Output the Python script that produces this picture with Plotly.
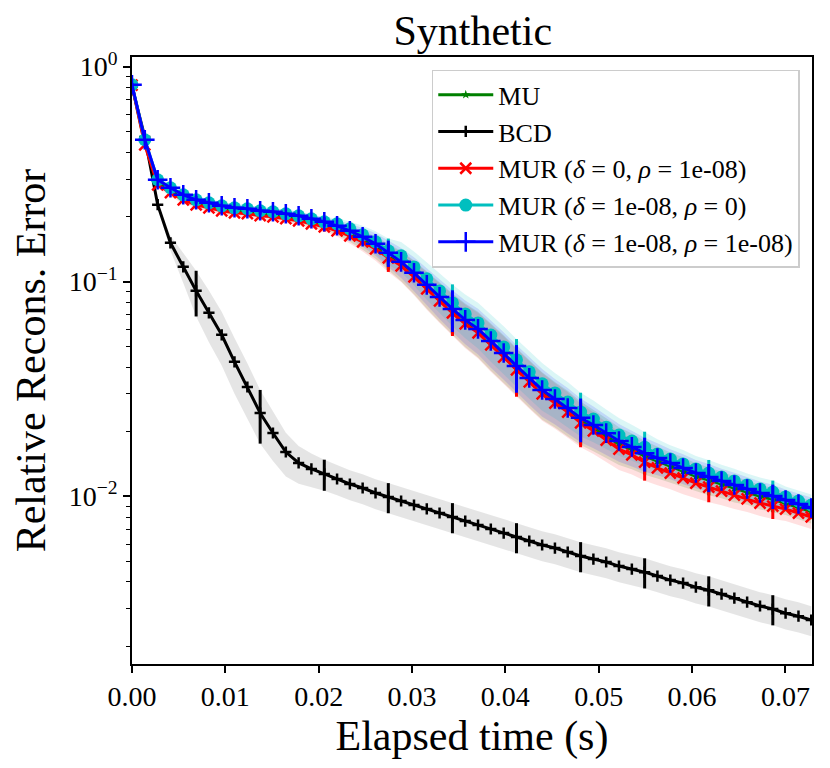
import plotly.graph_objects as go

# elapsed time per iteration (s), shared by all methods
t = [0.0, 0.00137, 0.00275, 0.00412, 0.00549, 0.00687, 0.00824, 0.00961, 0.01098, 0.01236,
     0.01373, 0.0151, 0.01648, 0.01785, 0.01922, 0.0206, 0.02197, 0.02334, 0.02471, 0.02609,
     0.02746, 0.02883, 0.03021, 0.03158, 0.03295, 0.03433, 0.0357, 0.03707, 0.03844, 0.03982,
     0.04119, 0.04256, 0.04394, 0.04531, 0.04668, 0.04806, 0.04943, 0.0508, 0.05217, 0.05355,
     0.05492, 0.05629, 0.05767, 0.05904, 0.06041, 0.06179, 0.06316, 0.06453, 0.0659, 0.06728,
     0.06865, 0.07002, 0.0714, 0.07277]

# mean relative reconstruction error
mu = [0.82, 0.44, 0.288, 0.2645, 0.2452, 0.2324, 0.2251, 0.218, 0.2133, 0.2111,
      0.2067, 0.2044, 0.2001, 0.1958, 0.1896, 0.1836, 0.1759, 0.1667, 0.1563, 0.145,
      0.1316, 0.1195, 0.1063, 0.0934, 0.0821, 0.0722, 0.0642, 0.0583, 0.0512, 0.045,
      0.0392, 0.0345, 0.0303, 0.0275, 0.025, 0.0225, 0.0208, 0.0191, 0.0175, 0.0165,
      0.0154, 0.0146, 0.0138, 0.0131, 0.0124, 0.0119, 0.0114, 0.0109, 0.0105, 0.01,
      0.0097, 0.0093, 0.0089, 0.0085]
bcd = [0.807, 0.47, 0.228, 0.1514, 0.1171, 0.0905, 0.0715, 0.0565, 0.0423, 0.0323,
       0.02445, 0.01973, 0.01609, 0.01431, 0.01342, 0.01272, 0.01205, 0.01142, 0.01094, 0.01037,
       0.00994, 0.00952, 0.00912, 0.00874, 0.00837, 0.00802, 0.00768, 0.00736, 0.00705, 0.00675,
       0.00647, 0.0062, 0.00594, 0.00575, 0.00551, 0.00528, 0.00511, 0.00495, 0.00474, 0.00459,
       0.00444, 0.00426, 0.00408, 0.00395, 0.00378, 0.00366, 0.00351, 0.00336, 0.00322, 0.00309,
       0.00299, 0.00286, 0.00277, 0.00266]
mur_d0 = [0.82, 0.433, 0.2821, 0.259, 0.2401, 0.2276, 0.2204, 0.2135, 0.2089, 0.2068,
          0.2024, 0.2002, 0.196, 0.1918, 0.1857, 0.1798, 0.1723, 0.1632, 0.1531, 0.142,
          0.1289, 0.1183, 0.1052, 0.0924, 0.0812, 0.0715, 0.0635, 0.0577, 0.0507, 0.0445,
          0.0388, 0.0341, 0.03, 0.0272, 0.0247, 0.022, 0.0202, 0.0183, 0.0166, 0.0156,
          0.01444, 0.01356, 0.01284, 0.01218, 0.01154, 0.01105, 0.01059, 0.01015, 0.00973, 0.00931,
          0.00902, 0.00873, 0.00837, 0.00802]
mur_r0 = [0.824, 0.457, 0.2976, 0.2732, 0.2533, 0.2401, 0.2325, 0.2252, 0.2204, 0.2181,
          0.2135, 0.2112, 0.2067, 0.2023, 0.1959, 0.1897, 0.1857, 0.176, 0.1651, 0.1531,
          0.139, 0.1317, 0.117, 0.1029, 0.0904, 0.0795, 0.0707, 0.0642, 0.0564, 0.0496,
          0.0432, 0.038, 0.0334, 0.0303, 0.0275, 0.0247, 0.0229, 0.021, 0.0193, 0.0181,
          0.01695, 0.01576, 0.01493, 0.01416, 0.01342, 0.01285, 0.01231, 0.0118, 0.01131, 0.01083,
          0.01048, 0.00994, 0.00952, 0.00912]
mur_both = [0.824, 0.457, 0.2976, 0.2732, 0.2533, 0.2401, 0.2325, 0.2252, 0.2204, 0.2181,
            0.2135, 0.2112, 0.2067, 0.2023, 0.1959, 0.1897, 0.1817, 0.1722, 0.1615, 0.1498,
            0.136, 0.1235, 0.1098, 0.0965, 0.0848, 0.0746, 0.0663, 0.0602, 0.0529, 0.0465,
            0.0405, 0.0356, 0.0313, 0.0284, 0.0258, 0.0232, 0.0215, 0.0197, 0.0181, 0.0170,
            0.0159, 0.0151, 0.0143, 0.01356, 0.01285, 0.01231, 0.01179, 0.0113, 0.01083, 0.01037,
            0.01004, 0.00962, 0.00922, 0.00883]

# spread (std / mean)
bcd_spread = [0.0, 0.0, 0.02, 0.08, 0.16, 0.24, 0.27, 0.28, 0.29, 0.29,
              0.28, 0.26, 0.23, 0.2, 0.18, 0.165, 0.16, 0.16, 0.16, 0.16,
              0.16, 0.16, 0.16, 0.16, 0.16, 0.16, 0.16, 0.16, 0.16, 0.16,
              0.16, 0.16, 0.16, 0.16, 0.16, 0.16, 0.16, 0.16, 0.16, 0.16,
              0.16, 0.16, 0.16, 0.16, 0.16, 0.16, 0.16, 0.16, 0.16, 0.16,
              0.16, 0.16, 0.16, 0.16]
mur_spread = [0.02, 0.03, 0.03, 0.04, 0.04, 0.04, 0.04, 0.04, 0.04, 0.04,
              0.04, 0.04, 0.045, 0.045, 0.05, 0.05, 0.06, 0.08, 0.1, 0.12,
              0.14, 0.16, 0.18, 0.2, 0.21, 0.22, 0.23, 0.24, 0.25, 0.25,
              0.25, 0.25, 0.25, 0.24, 0.24, 0.23, 0.22, 0.21, 0.2, 0.19,
              0.18, 0.17, 0.16, 0.16, 0.15, 0.15, 0.14, 0.14, 0.13, 0.13,
              0.13, 0.12, 0.12, 0.12]

names = ['MU', 'BCD',
         'MUR (<i>δ</i> = 0, <i>ρ</i> = 1e-08)',
         'MUR (<i>δ</i> = 1e-08, <i>ρ</i> = 0)',
         'MUR (<i>δ</i> = 1e-08, <i>ρ</i> = 1e-08)']
x_ticks = [0.0, 0.01, 0.02, 0.03, 0.04, 0.05, 0.06, 0.07]
y_ticks = [1, 0.1, 0.01]
y_ticktext = ['10<sup>0</sup>', '10<sup>−1</sup>', '10<sup>−2</sup>']

FONT = 'Liberation Serif'

# style per series: (mean, spread, line colour, band rgba, marker symbol, marker size)
series = [
    (mu, mur_spread, '#008000', 'rgba(0,128,0,0.14)', 'star', 7),
    (bcd, bcd_spread, '#000000', 'rgba(0,0,0,0.10)', 'cross-thin', 8),
    (mur_d0, mur_spread, '#ff0000', 'rgba(255,0,0,0.12)', 'x-thin', 11),
    (mur_r0, mur_spread, '#00bfbf', 'rgba(0,191,191,0.14)', 'circle', 13),
    (mur_both, mur_spread, '#0000ff', 'rgba(0,0,255,0.12)', 'cross-thin', 14),
]

for s in series:
    assert len(s[0]) == len(t) and len(s[1]) == len(t)

fig = go.Figure()

# shaded std bands first
for mean, spread, col, band, sym, size in series:
    lo = [m * (1 - r) for m, r in zip(mean, spread)]
    hi = [m * (1 + r) for m, r in zip(mean, spread)]
    fig.add_trace(go.Scatter(x=t, y=lo, mode='lines', line=dict(width=0),
                             showlegend=False, hoverinfo='skip'))
    fig.add_trace(go.Scatter(x=t, y=hi, mode='lines', line=dict(width=0),
                             fill='tonexty', fillcolor=band,
                             showlegend=False, hoverinfo='skip'))

# mean curves with error bars every 5th iteration
for (mean, spread, col, band, sym, size), name in zip(series, names):
    err = [m * r if k % 5 == 0 else 0 for k, (m, r) in enumerate(zip(mean, spread))]
    is_open = sym.endswith('-thin')
    fig.add_trace(go.Scatter(
        x=t, y=mean, name=name, mode='lines+markers',
        line=dict(color=col, width=3),
        marker=dict(symbol=sym, size=size, color=col,
                    line=dict(color=col, width=2.5 if is_open else 0)),
        error_y=dict(type='data', array=err, visible=True,
                     color=col, thickness=3, width=0),
    ))

axis_common = dict(
    showline=True, linecolor='black', linewidth=1.5, mirror=True,
    ticks='outside', ticklen=7, tickwidth=1.5, tickcolor='black',
    showgrid=False, zeroline=False,
    tickfont=dict(family=FONT, size=28, color='black'),
)

fig.update_xaxes(
    range=[0, 0.07285], tickmode='array', tickvals=x_ticks, tickformat='.2f',
    title=dict(text='Elapsed time (s)', font=dict(family=FONT, size=42, color='black'),
               standoff=10),
    **axis_common)

minor_vals = [m * 10 ** e for e in (-3, -2, -1) for m in range(2, 10)]
fig.update_yaxes(
    type='log', range=[-2.78, 0.045], tickmode='array',
    tickvals=y_ticks, ticktext=y_ticktext,
    minor=dict(ticks='outside', ticklen=4, tickwidth=1.2, tickcolor='black',
               tickmode='array', tickvals=minor_vals, showgrid=False),
    title=dict(text='Relative Recons. Error', font=dict(family=FONT, size=42, color='black'),
               standoff=10),
    **axis_common)

# the page adds an 8px body margin, so the figure is sized to fit inside it
fig.update_layout(
    width=814, height=752, autosize=False,
    margin=dict(l=124, r=8, t=49, b=96),
    paper_bgcolor='white', plot_bgcolor='white',
    font=dict(family=FONT, color='black'),
    title=dict(text='Synthetic', x=0.571, xanchor='center',
               y=0.97, yanchor='middle', yref='container',
               font=dict(family=FONT, size=42, color='black')),
    legend=dict(x=0.982, y=0.979, xanchor='right', yanchor='top',
                traceorder='normal',
                bgcolor='rgba(255,255,255,0.85)', bordercolor='#cccccc', borderwidth=1.5,
                font=dict(family=FONT, size=26, color='black'),
                itemwidth=55),
)

fig.write_html('out.html')
